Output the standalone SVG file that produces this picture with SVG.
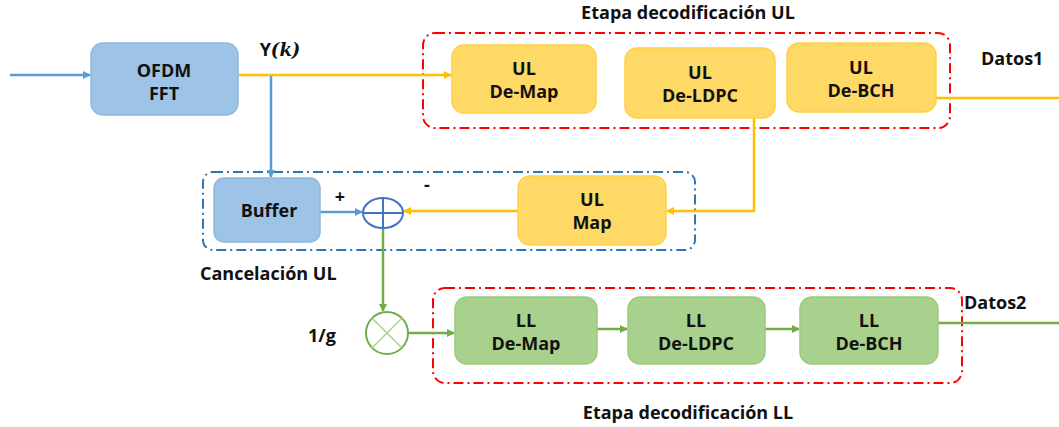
<svg xmlns="http://www.w3.org/2000/svg" width="1059" height="427" viewBox="0 0 1059 427">
<style>
text{font-family:"Open Sans",Lato,"Liberation Sans",sans-serif;font-weight:bold;font-size:18px;fill:#111;text-anchor:middle}
.lbl{text-anchor:start}
.blue{fill:#9DC3E6;stroke:#8FB8E0;stroke-width:1.5}
.yel{fill:#FFD966;stroke:#FFCF4A;stroke-width:1.5}
.grn{fill:#A9D18E;stroke:#9CC97F;stroke-width:1.5}
.lb{stroke:#5B9BD5;stroke-width:2.5;fill:none}
.ly{stroke:#FFC000;stroke-width:2.5;fill:none}
.lg{stroke:#70AD47;stroke-width:2.5;fill:none}
.red{fill:none;stroke:#FF0000;stroke-width:2;stroke-dasharray:10 4 2 4}
.bd{fill:none;stroke:#2E75B6;stroke-width:2;stroke-dasharray:10 4 2 4}
</style>
<defs>
<marker id="ab" markerWidth="8" markerHeight="8" refX="7" refY="4" orient="auto" markerUnits="userSpaceOnUse"><path d="M0,0L8,4L0,8z" fill="#5B9BD5"/></marker>
<marker id="ay" markerWidth="8" markerHeight="8" refX="7" refY="4" orient="auto" markerUnits="userSpaceOnUse"><path d="M0,0L8,4L0,8z" fill="#FFC000"/></marker>
<marker id="ag" markerWidth="8" markerHeight="8" refX="7" refY="4" orient="auto" markerUnits="userSpaceOnUse"><path d="M0,0L8,4L0,8z" fill="#70AD47"/></marker>
</defs>
<rect width="1059" height="427" fill="#fff"/>
<g id="groups">
<rect class="red" x="423" y="33" width="527" height="95" rx="12"/>
<rect class="bd" x="203" y="172" width="492" height="78" rx="10"/>
<rect class="red" x="433" y="288" width="529" height="95" rx="12"/>
<text x="688" y="19">Etapa decodificación UL</text>
<text class="lbl" x="200" y="280">Cancelación UL</text>
<text x="688" y="419">Etapa decodificación LL</text>
</g>
<g id="connectors">
<line class="lb" x1="10" y1="75" x2="90" y2="75" marker-end="url(#ab)"/>
<line class="ly" x1="238" y1="75" x2="451" y2="75" marker-end="url(#ay)"/>
<line class="lb" x1="271" y1="76" x2="271" y2="177" marker-end="url(#ab)"/>
<line class="ly" x1="936" y1="98" x2="1059" y2="98"/>
<polyline class="ly" points="754,118 754,211 667,211" marker-end="url(#ay)"/>
<line class="lb" x1="320" y1="212" x2="362" y2="212" marker-end="url(#ab)"/>
<line class="ly" x1="518" y1="211" x2="404" y2="211" marker-end="url(#ay)"/>
<line class="lg" x1="383" y1="228" x2="383" y2="311" marker-end="url(#ag)"/>
<line class="lg" x1="408" y1="333" x2="454" y2="333" marker-end="url(#ag)"/>
<line class="lg" x1="597" y1="329" x2="627" y2="329" marker-end="url(#ag)"/>
<line class="lg" x1="765" y1="329" x2="799" y2="329" marker-end="url(#ag)"/>
<line class="lg" x1="938" y1="323" x2="1059" y2="323"/>
<text x="280" y="56" font-size="19">Y<tspan font-family="'DejaVu Serif',serif" font-style="italic">(k)</tspan></text>
<text x="340" y="203">+</text>
<text x="427" y="191">-</text>
<text class="lbl" x="981" y="65">Datos1</text>
<text class="lbl" x="964" y="309">Datos2</text>
<text class="lbl" x="308" y="342">1/g</text>
</g>
<g id="ofdm"><rect class="blue" x="91" y="43" width="147" height="72" rx="12"/><text x="164" y="77">OFDM<tspan x="164" dy="23">FFT</tspan></text></g>
<g id="ul-demap"><rect class="yel" x="452" y="45" width="144" height="68" rx="12"/><text x="524" y="75">UL<tspan x="524" dy="23">De-Map</tspan></text></g>
<g id="ul-deldpc"><rect class="yel" x="625" y="48" width="150" height="70" rx="12"/><text x="700" y="79">UL<tspan x="700" dy="23">De-LDPC</tspan></text></g>
<g id="ul-debch"><rect class="yel" x="787" y="43" width="149" height="69" rx="12"/><text x="861" y="74">UL<tspan x="861" dy="23">De-BCH</tspan></text></g>
<g id="buffer"><rect class="blue" x="214" y="178" width="106" height="64" rx="10"/><text x="269" y="217">Buffer</text></g>
<g id="ul-map"><rect class="yel" x="518" y="176" width="148" height="69" rx="12"/><text x="592" y="206">UL<tspan x="592" dy="23">Map</tspan></text></g>
<g id="sum"><ellipse cx="383" cy="213" rx="20" ry="15" fill="#fff" stroke="#4472C4" stroke-width="2"/><line x1="363" y1="213" x2="403" y2="213" stroke="#4472C4" stroke-width="2"/><line x1="383" y1="198" x2="383" y2="228" stroke="#4472C4" stroke-width="2"/></g>
<g id="mult"><circle cx="387" cy="333" r="21" fill="#fff" stroke="#70AD47" stroke-width="2"/><line x1="372" y1="318" x2="402" y2="348" stroke="#A9D18E" stroke-width="1.5"/><line x1="402" y1="318" x2="372" y2="348" stroke="#A9D18E" stroke-width="1.5"/></g>
<g id="ll-demap"><rect class="grn" x="455" y="297" width="142" height="67" rx="12"/><text x="526" y="327">LL<tspan x="526" dy="23">De-Map</tspan></text></g>
<g id="ll-deldpc"><rect class="grn" x="628" y="297" width="137" height="67" rx="12"/><text x="696" y="327">LL<tspan x="696" dy="23">De-LDPC</tspan></text></g>
<g id="ll-debch"><rect class="grn" x="800" y="297" width="138" height="67" rx="12"/><text x="869" y="327">LL<tspan x="869" dy="23">De-BCH</tspan></text></g>
</svg>
